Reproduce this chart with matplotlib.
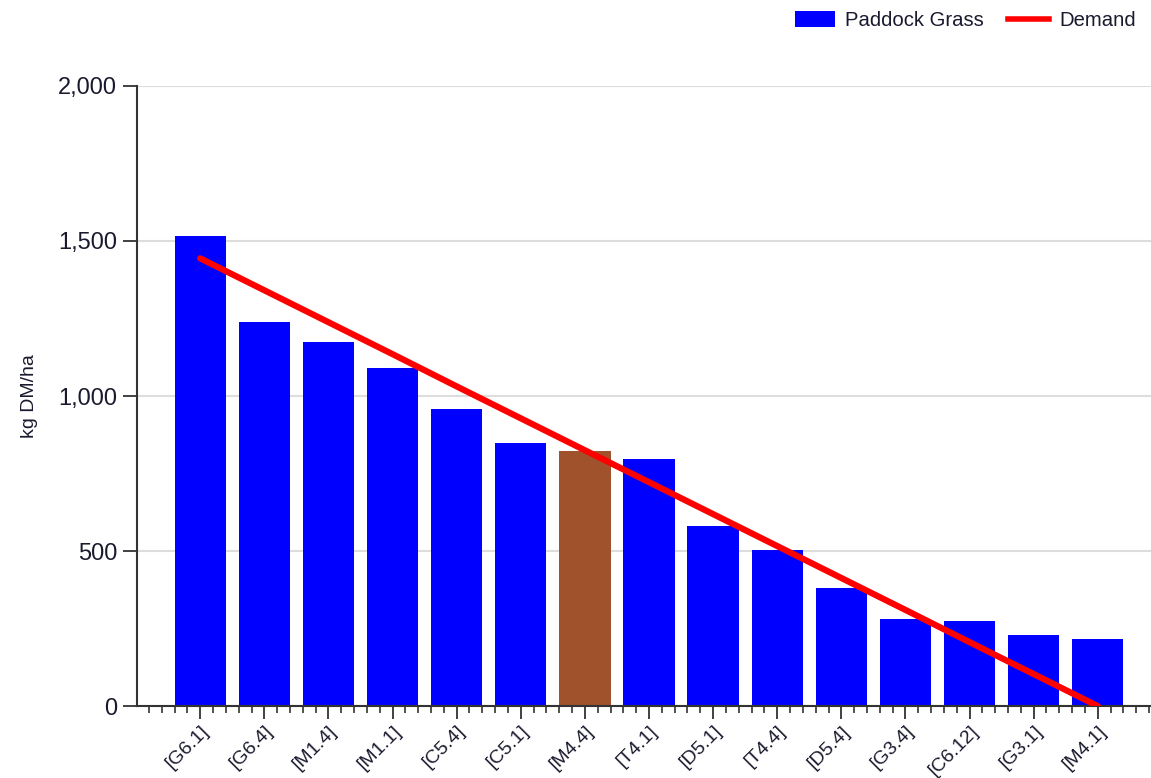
import numpy as np
from matplotlib import pyplot as plt
from matplotlib.ticker import MultipleLocator, FuncFormatter
from matplotlib.patches import Patch
from matplotlib.lines import Line2D

plt.rcParams['font.family'] = ['Liberation Sans', 'DejaVu Sans']

paddocks = ['[G6.1]', '[G6.4]', '[M1.4]', '[M1.1]', '[C5.4]', '[C5.1]', '[M4.4]', '[T4.1]',
            '[D5.1]', '[T4.4]', '[D5.4]', '[G3.4]', '[C6.12]', '[G3.1]', '[M4.1]']
grass = [1516, 1238, 1174, 1090, 958, 848, 823, 797, 581, 503, 381, 281, 274, 229, 216]
demand = [1444, 1341, 1238, 1135, 1031, 928, 825, 722, 619, 516, 413, 310, 206, 103, 0]
highlight = '[M4.4]'

blue = '#0000ff'
brown = '#a0522d'
red = '#ff0000'
text_col = '#1a1a2e'

fig = plt.figure(figsize=(11.51, 7.78), dpi=100)
ax = fig.add_axes([0.1188, 0.0925, 0.8812, 0.797])

x = np.arange(len(paddocks))
colors = [brown if p == highlight else blue for p in paddocks]
ax.bar(x, grass, width=0.8, color=colors, zorder=2)
ax.plot(x, demand, color=red, linewidth=4.5, solid_capstyle='round', zorder=3)

ax.set_xlim(-0.99, 14.83)
ax.set_ylim(0, 2000)
ax.yaxis.set_major_locator(MultipleLocator(500))
ax.yaxis.set_major_formatter(FuncFormatter(lambda v, p: '{:,.0f}'.format(v)))
ax.grid(axis='y', color='#dddddd', linewidth=1.5, zorder=0)

ax.set_xticks(x)
ax.set_xticklabels(paddocks, rotation=45, ha='right', rotation_mode='anchor',
                   fontsize=14, color=text_col)
ax.xaxis.set_minor_locator(MultipleLocator(0.2))
ax.tick_params(axis='x', which='major', length=9, width=1.3, color='#333333', pad=3)
ax.tick_params(axis='x', which='minor', length=5, width=1.2, color='#333333')
ax.tick_params(axis='y', length=10, width=1.3, color='#333333', labelsize=17,
               labelcolor=text_col, pad=4)

for s in ['top', 'right']:
    ax.spines[s].set_visible(False)
for s in ['left', 'bottom']:
    ax.spines[s].set_color('#333333')
    ax.spines[s].set_linewidth(1.5)

ax.set_ylabel('kg DM/ha', fontsize=14, color=text_col)
ax.yaxis.set_label_coords(-0.097, 0.5)

handles = [Patch(facecolor=blue, label='Paddock Grass'),
           Line2D([0], [0], color=red, linewidth=4, label='Demand')]
fig.legend(handles=handles, loc='upper right', bbox_to_anchor=(0.999, 1.004), ncol=2,
           frameon=False, fontsize=14.6, handlelength=2.0, handleheight=0.8,
           columnspacing=1.2, handletextpad=0.5, borderaxespad=0.3, labelcolor=text_col)

fig.savefig('out.png', dpi=100)
